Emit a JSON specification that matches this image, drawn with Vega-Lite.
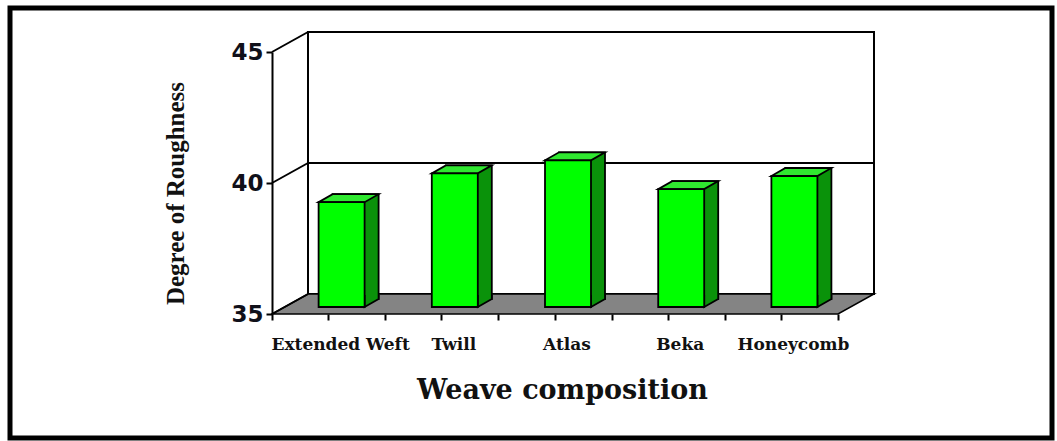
{
  "$schema": "https://vega.github.io/schema/vega-lite/v6.json",
  "width": 1042,
  "height": 430,
  "autosize": {"type": "none"},
  "padding": {"left": 10, "top": 8, "right": 5, "bottom": 3},
  "background": "#ffffff",
  "config": {"view": {"stroke": "#000000", "strokeWidth": 5}},
  "datasets": {
    "roughness": [
      {"weave": "Extended Weft", "roughness": 39.0},
      {"weave": "Twill", "roughness": 40.1},
      {"weave": "Atlas", "roughness": 40.6},
      {"weave": "Beka", "roughness": 39.5},
      {"weave": "Honeycomb", "roughness": 40.0}
    ],
    "wallLevels": [{"level": 35}, {"level": 40}, {"level": 45}],
    "single": [{}]
  },
  "data": {"name": "roughness"},
  "resolve": {"axis": {"x": "independent"}},
  "layer": [
    {
      "data": {"name": "single"},
      "mark": {"type": "rect", "fill": "#ffffff", "stroke": "#000000", "strokeWidth": 2,
               "xOffset": 36, "x2Offset": 36, "yOffset": -20, "y2Offset": -20},
      "encoding": {
        "x": {"datum": "Extended Weft", "type": "nominal", "bandPosition": 0,
              "scale": {"type": "band", "domain": ["Extended Weft", "Twill", "Atlas", "Beka", "Honeycomb"],
                        "range": [262, 828], "paddingInner": 0, "paddingOuter": 0},
              "axis": {"orient": "bottom", "offset": -124, "tickBand": "extent", "labels": false,
                       "title": null, "domain": false, "grid": false,
                       "tickSize": 6, "tickColor": "#000000", "tickWidth": 2}},
        "x2": {"datum": "Honeycomb", "bandPosition": 1},
        "y": {"datum": 35, "type": "quantitative",
              "scale": {"domain": [35, 45], "range": [306, 44], "nice": false, "zero": false},
              "axis": {"offset": -262, "values": [35, 40, 45], "grid": false,
                       "domainColor": "#000000", "domainWidth": 2,
                       "tickSize": 6, "tickColor": "#000000", "tickWidth": 2,
                       "labelFont": "DejaVu Sans", "labelFontWeight": "bold", "labelFontSize": 23,
                       "labelColor": "#10101a", "labelPadding": 3,
                       "title": "Degree of Roughness", "titleFont": "Liberation Serif", "titleFontWeight": "bold",
                       "titleFontSize": 25, "titleColor": "#111111", "titleAngle": 270,
                       "titleX": -97, "titleY": 185, "titleAlign": "center", "titleBaseline": "middle"}},
        "y2": {"datum": 45}
      }
    },
    {
      "data": {"name": "single"},
      "mark": {"type": "rule", "stroke": "#000000", "strokeWidth": 2,
               "xOffset": 36, "x2Offset": 36, "yOffset": -20, "y2Offset": -20},
      "encoding": {
        "x": {"datum": "Extended Weft", "type": "nominal", "bandPosition": 0, "axis": null},
        "x2": {"datum": "Honeycomb", "bandPosition": 1},
        "y": {"datum": 40, "type": "quantitative"},
        "y2": {"datum": 40}
      }
    },
    {
      "data": {"name": "single"},
      "mark": {"type": "point", "filled": true, "opacity": 1, "fill": "#848484",
               "stroke": "#000000", "strokeWidth": 1.5, "size": 362404,
               "shape": "M-1,0.0332L0.8804,0.0332L1,-0.0332L-0.8804,-0.0332Z",
               "xOffset": 18, "yOffset": -10},
      "encoding": {
        "x": {"datum": "Atlas", "type": "nominal", "axis": null},
        "y": {"datum": 35, "type": "quantitative"}
      }
    },
    {
      "data": {"name": "wallLevels"},
      "mark": {"type": "rule", "stroke": "#000000", "strokeWidth": 2, "x2Offset": 36, "y2Offset": -20},
      "encoding": {
        "x": {"datum": "Extended Weft", "type": "nominal", "bandPosition": 0, "axis": null},
        "x2": {"datum": "Extended Weft", "bandPosition": 0},
        "y": {"field": "level", "type": "quantitative"},
        "y2": {"field": "level"}
      }
    },
    {
      "mark": {"type": "bar", "width": 46, "fill": "#0a920a", "stroke": "#000000", "strokeWidth": 1.8,
               "xOffset": 27, "yOffset": -15, "y2Offset": -15},
      "encoding": {
        "x": {"field": "weave", "type": "nominal", "sort": null, "axis": null},
        "y": {"field": "roughness", "type": "quantitative"},
        "y2": {"datum": 35}
      }
    },
    {
      "mark": {"type": "point", "filled": true, "opacity": 1, "fill": "#30e830",
               "stroke": "#000000", "strokeWidth": 1.8, "size": 3600,
               "shape": "M-1,0.1333L0.5333,0.1333L1,-0.1333L-0.5333,-0.1333Z",
               "xOffset": 20, "yOffset": -11},
      "encoding": {
        "x": {"field": "weave", "type": "nominal", "sort": null, "axis": null},
        "y": {"field": "roughness", "type": "quantitative"}
      }
    },
    {
      "mark": {"type": "point", "filled": true, "opacity": 1, "fill": "#0a920a",
               "stroke": "#000000", "strokeWidth": 1.8, "size": 196,
               "shape": "M1,-0.8571L1,-0.2857L-1,0.8571L-1,-0.8571",
               "xOffset": 43, "yOffset": -13},
      "encoding": {
        "x": {"field": "weave", "type": "nominal", "sort": null, "axis": null},
        "y": {"datum": 35, "type": "quantitative"}
      }
    },
    {
      "mark": {"type": "bar", "width": 46, "fill": "#00ff00", "stroke": "#000000", "strokeWidth": 1.8,
               "xOffset": 13, "yOffset": -7, "y2Offset": -7},
      "encoding": {
        "x": {"field": "weave", "type": "nominal", "sort": null,
              "axis": {"orient": "bottom", "offset": -124, "domain": false, "grid": false,
                       "tickSize": 6, "tickColor": "#000000", "tickWidth": 2,
                       "labelAngle": 0, "labelFont": "DejaVu Serif", "labelFontWeight": "bold",
                       "labelFontSize": 17, "labelColor": "#111111", "labelOffset": 12, "labelPadding": 16,
                       "labelOverlap": false,
                       "title": "Weave composition", "titleFont": "DejaVu Serif", "titleFontWeight": "bold",
                       "titleFontSize": 27, "titleColor": "#111111", "titleX": 552, "titleY": 84,
                       "titleAlign": "center", "titleBaseline": "alphabetic"}},
        "y": {"field": "roughness", "type": "quantitative"},
        "y2": {"datum": 35}
      }
    }
  ]
}
